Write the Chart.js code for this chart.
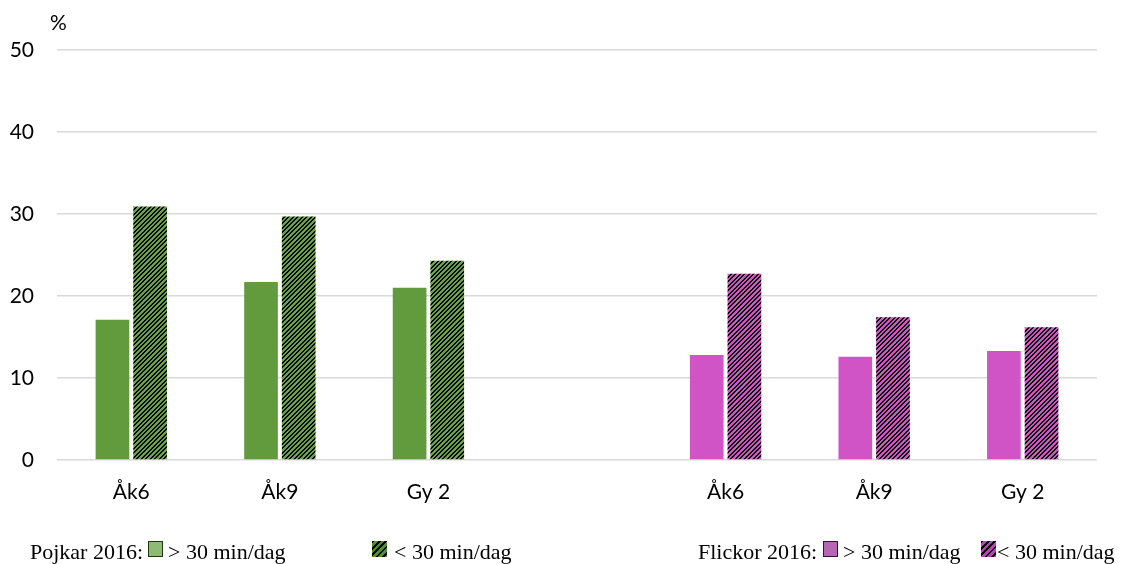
<!DOCTYPE html>
<html>
<head>
<meta charset="utf-8">
<script src="https://cdn.jsdelivr.net/npm/chart.js@4/dist/chart.umd.min.js"></script>
<style>
  html, body { margin: 0; padding: 0; background: #fff; }
  #wrap { position: relative; width: 1124px; height: 564px; overflow: hidden; }
  #c { position: absolute; left: 0; top: 0; }
  .t { position: absolute; font-family: "Liberation Serif", "Times New Roman", serif; font-size: 22px; color: #000; white-space: nowrap; line-height: 24px; }
  .pct { position: absolute; font-family: Lato, "Open Sans", sans-serif; font-size: 21px; color: #000; left: 50px; top: 9px; }
  .sw { position: absolute; width: 15px; height: 16px; box-sizing: border-box; }
</style>
</head>
<body>
<div id="wrap">
  <canvas id="c" width="1124" height="564"></canvas>
  <div class="pct">%</div>
  <div class="t" style="left:30px; top:540px;">Pojkar 2016:</div>
  <div class="sw" style="left:148px; top:541px; background:#8DBB70; border:1px solid #1f3a10;"></div>
  <div class="t" style="left:168px; top:540px;">&gt; 30 min/dag</div>
  <div class="sw" style="left:372px; top:541px; background:repeating-linear-gradient(135deg, #000 0 2px, #4F8E2E 2px 4.5px);"></div>
  <div class="t" style="left:394px; top:540px;">&lt; 30 min/dag</div>
  <div class="t" style="left:698px; top:540px;">Flickor 2016:</div>
  <div class="sw" style="left:823px; top:541px; background:#B666B2; border:1px solid #3a1038;"></div>
  <div class="t" style="left:843px; top:540px;">&gt; 30 min/dag</div>
  <div class="sw" style="left:981px; top:541px; background:repeating-linear-gradient(135deg, #000 0 2px, #C23BC0 2px 4.5px);"></div>
  <div class="t" style="left:997px; top:540px;">&lt; 30 min/dag</div>
</div>
<script>
const categories = ['Åk6', 'Åk9', 'Gy 2', '', 'Åk6', 'Åk9', 'Gy 2'];
const over30 = [17.1, 21.7, 21.0, null, 12.8, 12.6, 13.3];
const under30 = [30.9, 29.7, 24.3, null, 22.7, 17.4, 16.2];
const yTicks = [0, 10, 20, 30, 40, 50];

const GREEN = '#629B3E';
const PINK = '#D154C6';

function hatch(color) {
  const p = document.createElement('canvas');
  p.width = 9; p.height = 9;
  const g = p.getContext('2d');
  for (let x = 0; x < 9; x++) {
    for (let y = 0; y < 9; y++) {
      g.fillStyle = ((x + y) % 4.5) < 2 ? '#000000' : color;
      g.fillRect(x, y, 1, 1);
    }
  }
  return g.createPattern(p, 'repeat');
}
const ctx = document.getElementById('c').getContext('2d');
const hG = hatch('#66A63F'), hP = hatch(PINK);
const solidColors = categories.map((c, i) => i < 3 ? GREEN : PINK);
const hatchColors = categories.map((c, i) => i < 3 ? hG : hP);

new Chart(ctx, {
  type: 'bar',
  data: {
    labels: categories,
    datasets: [
      { label: '> 30 min/dag', data: over30, backgroundColor: solidColors, borderWidth: 0 },
      { label: '< 30 min/dag', data: under30, backgroundColor: hatchColors, borderWidth: 0 }
    ]
  },
  options: {
    responsive: false,
    animation: false,
    devicePixelRatio: 1,
    layout: { padding: { left: 0, right: 27, top: 50, bottom: 0 } },
    plugins: { legend: { display: false }, tooltip: { enabled: false }, title: { display: false } },
    datasets: { bar: { categoryPercentage: 0.507, barPercentage: 0.894 } },
    scales: {
      x: {
        grid: { display: false, drawTicks: false },
        border: { display: false },
        ticks: { color: '#000', font: { family: 'Lato', size: 21 }, padding: 20, maxRotation: 0, autoSkip: false },
        afterFit: s => { s.height = 104; }
      },
      y: {
        min: 0, max: 50,
        afterBuildTicks: s => { s.ticks = yTicks.map(v => ({ value: v })); },
        grid: { color: '#d9d9d9', lineWidth: 1.5, drawTicks: false },
        border: { display: false },
        ticks: { color: '#000', font: { family: 'Lato', size: 21 }, padding: 23 },
        afterFit: s => { s.width = 57; }
      }
    }
  }
});
</script>
</body>
</html>
